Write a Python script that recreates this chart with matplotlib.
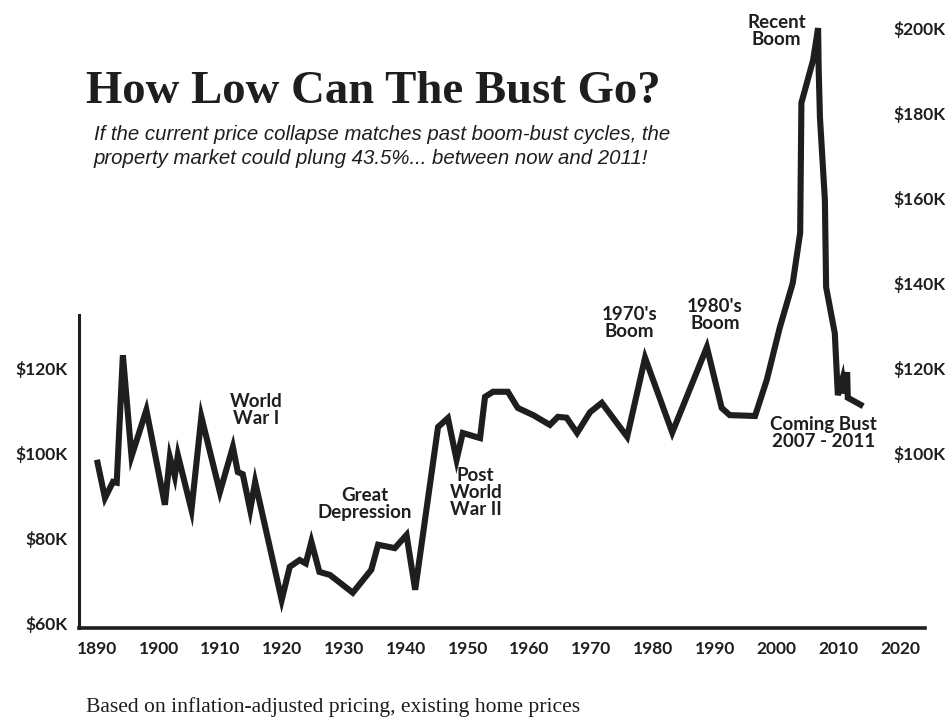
import matplotlib.pyplot as plt
from matplotlib import font_manager

#------------------------------------- DATOS --------------------------------------------
# Precio de vivienda existente ajustado por inflación (miles de USD)
anios = [1890.0, 1891.3, 1892.6, 1893.2, 1894.2, 1895.6, 1898.0, 1901.0, 1901.8, 1902.6,
         1903.1, 1905.3, 1906.9, 1909.9, 1912.0, 1912.8, 1913.6, 1914.8, 1915.6, 1919.9,
         1921.2, 1922.8, 1923.8, 1924.7, 1926.0, 1927.7, 1931.4, 1934.4, 1935.5, 1938.2,
         1940.1, 1941.5, 1945.2, 1946.8, 1948.2, 1949.2, 1952.0, 1952.8, 1954.1, 1956.5,
         1958.1, 1960.6, 1963.3, 1964.6, 1966.0, 1967.7, 1969.8, 1971.7, 1975.8, 1978.7,
         1983.1, 1988.7, 1991.1, 1992.4, 1996.5, 1998.4, 2000.5, 2002.6, 2003.8, 2004.0,
         2005.9, 2006.7, 2006.8, 2007.0, 2007.8, 2008.0, 2009.4, 2009.9, 2010.6, 2010.8,
         2011.4, 2011.5, 2014.0]
precios = [98.4, 89.4, 93.2, 93.0, 123.0, 99.2, 110.1, 87.8, 99.0, 94.5,
           99.5, 86.6, 108.5, 90.8, 101.4, 95.5, 95.0, 86.6, 93.2, 65.4,
           73.2, 74.8, 74.0, 79.1, 72.0, 71.3, 67.1, 72.5, 78.4, 77.6,
           80.7, 67.8, 106.1, 108.2, 98.4, 104.7, 103.5, 113.2, 114.4, 114.4,
           110.6, 108.9, 106.6, 108.5, 108.3, 104.7, 109.6, 111.8, 103.8, 122.4,
           104.8, 124.9, 110.6, 108.9, 108.7, 117.2, 129.5, 140.0, 151.8, 182.4,
           192.5, 200.0, 190.0, 179.0, 159.5, 139.0, 128.2, 113.6, 117.2, 114.0,
           119.0, 113.0, 111.0]

ticks_x = list(range(1890, 2030, 10))
ticks_izq = [60, 80, 100, 120]
ticks_der = [100, 120, 140, 160, 180, 200]

# Ciclos de auge y caída
ciclos = ["World\nWar I", "Great\nDepression", "Post\nWorld\nWar II",
          "1970's\nBoom", "1980's\nBoom", "Recent\nBoom", "Coming Bust\n2007 - 2011"]

titulo = "How Low Can The Bust Go?"
subtitulo = ["If the current price collapse matches past boom-bust cycles, the",
             "property market could plung 43.5%... between now and 2011!"]
nota = "Based on inflation-adjusted pricing, existing home prices"

#------------------------------------- FUENTES --------------------------------------------
disponibles = {f.name for f in font_manager.fontManager.ttflist}
sans = ['Lato', 'DejaVu Sans'] if 'Lato' in disponibles else ['DejaVu Sans']
serif = ['Liberation Serif', 'DejaVu Serif']
italica = ['Liberation Sans Narrow', 'Liberation Sans', 'DejaVu Sans']

TINTA = '#1e1e1e'

#------------------------------------- GRAFICO --------------------------------------------
fig = plt.figure(figsize=(9.53, 7.22), dpi=100)
ax = fig.add_axes([79/953, 1 - 628/722, (925 - 79)/953, (628 - 3)/722])

ax.plot(anios, precios, color=TINTA, linewidth=4.4, solid_joinstyle='miter',
        solid_capstyle='butt', clip_on=False)

ax.set_xlim(1887.1, 2024.0)
ax.set_ylim(58.8, 205.9)

# Ejes: solo izquierda (recortado) y abajo
for lado in ['top', 'right']:
    ax.spines[lado].set_visible(False)
ax.spines['left'].set_bounds(58.8, 132.5)
ax.spines['left'].set_linewidth(2.2)
ax.spines['bottom'].set_linewidth(2.6)
ax.spines['left'].set_color(TINTA)
ax.spines['bottom'].set_color(TINTA)

ax.set_xticks(ticks_x)
ax.set_xticklabels([str(a) for a in ticks_x])
ax.set_yticks(ticks_izq)
ax.set_yticklabels([f"${v}K" for v in ticks_izq])
ax.tick_params(axis='x', length=0, pad=9)
ax.tick_params(axis='y', length=0, pad=8)
for lbl in ax.get_xticklabels() + ax.get_yticklabels():
    lbl.set_family(sans)
    lbl.set_weight('bold')
    lbl.set_fontsize(12.5)
    lbl.set_color(TINTA)

# Escala derecha (misma escala que la izquierda)
ax2 = ax.twinx()
ax2.set_ylim(ax.get_ylim())
for lado in ax2.spines:
    ax2.spines[lado].set_visible(False)
ax2.set_yticks(ticks_der)
ax2.set_yticklabels([f"${v}K" for v in ticks_der])
ax2.tick_params(axis='y', length=0, pad=-23)
for lbl in ax2.get_yticklabels():
    lbl.set_family(sans)
    lbl.set_weight('bold')
    lbl.set_fontsize(12.5)
    lbl.set_color(TINTA)

# Etiquetas de los ciclos
posiciones = [(1915.7, 110.1), (1933.4, 88.0), (1951.3, 90.6), (1976.2, 130.6),
              (1990.0, 132.5), (2000.0, 199.3), (2007.6, 104.7)]
for texto, (x, y) in zip(ciclos, posiciones):
    ax.text(x, y, texto, ha='center', va='center', multialignment='center',
            family=sans, weight='bold', fontsize=13.5, color=TINTA, linespacing=1.0)

# Titulos y nota al pie
fig.text(86/953, 1 - 103/722, titulo, family=serif, weight='bold', fontsize=33.7,
         color=TINTA, va='baseline')
fig.text(94/953, 1 - 140/722, subtitulo[0], family=italica, style='italic',
         fontsize=14.7, color=TINTA, va='baseline')
fig.text(94/953, 1 - 164/722, subtitulo[1], family=italica, style='italic',
         fontsize=14.7, color=TINTA, va='baseline')
fig.text(86/953, 1 - 712/722, nota, family=serif, fontsize=15.6, color=TINTA,
         va='baseline')

fig.savefig('out.png', dpi=100, facecolor='white')
